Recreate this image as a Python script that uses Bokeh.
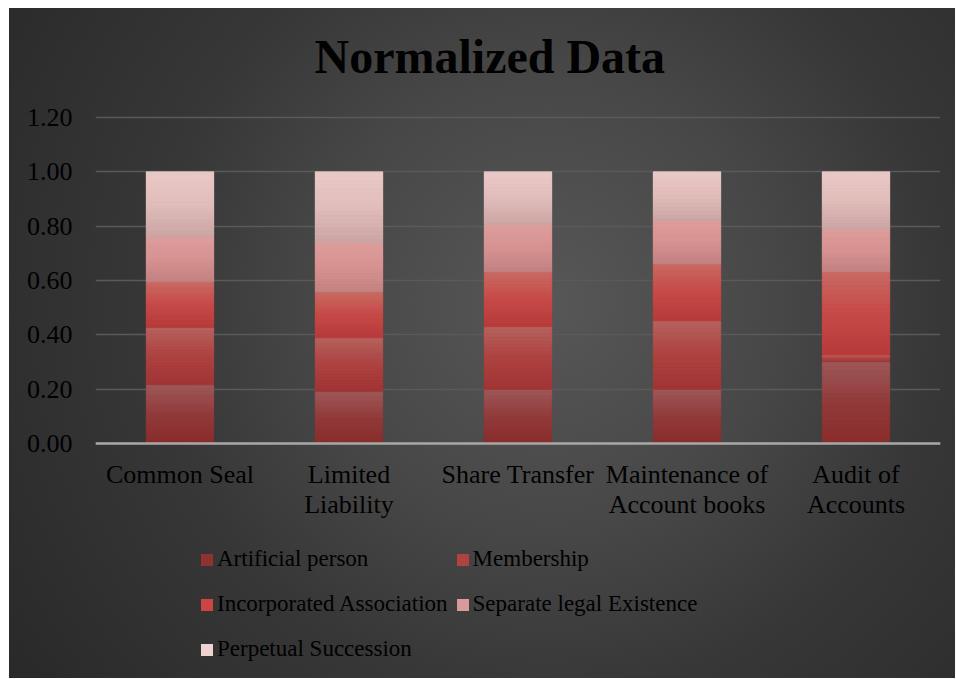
import numpy as np
from bokeh.plotting import figure
from bokeh.models import (ColumnDataSource, FixedTicker, NumeralTickFormatter,
                          Legend, LegendItem, Range1d)
from bokeh.embed import file_html
from bokeh.resources import INLINE

# ---------------- data ----------------
categories = ["Common Seal", "Limited Liability", "Share Transfer",
              "Maintenance of Account books", "Audit of Accounts"]
category_labels = ["Common Seal", "Limited\nLiability", "Share Transfer",
                   "Maintenance of\nAccount books", "Audit of\nAccounts"]
series = ["Artificial person", "Membership", "Incorporated Association",
          "Separate legal Existence", "Perpetual Succession"]
artificial_person = [0.216, 0.191, 0.199, 0.199, 0.301]
membership = [0.211, 0.198, 0.231, 0.253, 0.025]
incorporated_association = [0.168, 0.169, 0.202, 0.209, 0.306]
separate_legal_existence = [0.166, 0.182, 0.173, 0.161, 0.157]
perpetual_succession = [0.239, 0.260, 0.195, 0.178, 0.211]
y_ticks = [0.0, 0.2, 0.4, 0.6, 0.8, 1.0, 1.2]

values = [artificial_person, membership, incorporated_association,
          separate_legal_existence, perpetual_succession]
xpos = list(range(len(categories)))

# ---------------- style / layout ----------------
swatch_colors = ["#8e3232", "#b04242", "#cc4545", "#d89a9a", "#eed2d2"]
stops = [  # bottom, middle, top
    ["#882c2c", "#923a3a", "#9e5858"],
    ["#a03434", "#ad4240", "#b5625e"],
    ["#b63a3a", "#c64a46", "#c96a63"],
    ["#c08180", "#d69290", "#dc9e9c"],
    ["#caa4a2", "#e0bcba", "#e9c9c7"],
]
FONT = "Liberation Serif"
N_SLICES = 18
BAR_W = 0.4
FIG_W, FIG_H = 946, 670
TOP, BOTTOM = 93, 1           # frame borders (px)
TOP_PAD = 16                  # px between frame top and the 1.20 line
VALUE_SPAN_PX = 326           # pixel height of 0 .. 1.2
frame_h = FIG_H - TOP - BOTTOM
u = y_ticks[-1] / VALUE_SPAN_PX
y_hi = y_ticks[-1] + TOP_PAD * u
y_lo = -(frame_h - VALUE_SPAN_PX - TOP_PAD) * u   # room for labels + legend


def hex2rgb(h):
    h = h.lstrip("#")
    return np.array([int(h[i:i + 2], 16) for i in (0, 2, 4)], dtype=float)


def interp(st, f):
    c = [hex2rgb(s) for s in st]
    if f <= 0.5:
        r = c[0] + (c[1] - c[0]) * (f / 0.5)
    else:
        r = c[1] + (c[2] - c[1]) * ((f - 0.5) / 0.5)
    return "#%02x%02x%02x" % tuple(int(round(v)) for v in r)


p = figure(width=FIG_W, height=FIG_H,
           x_range=Range1d(-0.5, len(categories) - 0.5), y_range=Range1d(y_lo, y_hi),
           output_backend="svg", toolbar_location=None,
           min_border_left=86, min_border_right=15,
           min_border_top=TOP, min_border_bottom=BOTTOM)
p.margin = (8, 0, 0, 9)
p.styles = {"background": "radial-gradient(circle farthest-corner at 57% 44%, "
                          "#575757 0%, #474747 35%, #373737 60%, #292929 100%)"}
p.background_fill_color = None
p.border_fill_color = None
p.outline_line_color = None

# base stacked bars (also used for legend)
src = ColumnDataSource(dict(x=xpos, **{s: v for s, v in zip(series, values)}))
base = p.vbar_stack(series, x="x", width=BAR_W, color=swatch_colors,
                    line_color=None, source=src)

# gradient slices over each segment
xs, bots, tops, cols = [], [], [], []
for i in xpos:
    b = 0.0
    for si, v in enumerate(values):
        t = b + v[i]
        for k in range(N_SLICES):
            xs.append(i)
            bots.append(b + (t - b) * k / N_SLICES)
            tops.append(b + (t - b) * (k + 1) / N_SLICES)
            cols.append(interp(stops[si], (k + 0.5) / N_SLICES))
        b = t
p.vbar(x=xs, bottom=bots, top=tops, width=BAR_W, fill_color=cols,
       line_color=cols, line_width=0.6)

# x axis, drawn at y = 0
xa = p.xaxis[0]
xa.fixed_location = 0
xa.ticker = FixedTicker(ticks=xpos)
xa.major_label_overrides = {i: lab for i, lab in zip(xpos, category_labels)}
xa.axis_line_color = "#a8a8a8"
xa.axis_line_width = 2.5
xa.major_tick_line_color = None
xa.minor_tick_line_color = None
xa.major_tick_out = 0
xa.major_tick_in = 0
xa.major_label_standoff = 16
xa.major_label_text_font = FONT
xa.major_label_text_font_size = "26px"
xa.major_label_text_color = "black"
xa.major_label_text_align = "center"
xa.major_label_text_line_height = 1.05

# y axis
p.yaxis.ticker = FixedTicker(ticks=y_ticks)
p.yaxis.formatter = NumeralTickFormatter(format="0.00")
p.yaxis.axis_line_color = None
p.yaxis.major_tick_line_color = None
p.yaxis.minor_tick_line_color = None
p.yaxis.major_tick_out = 0
p.yaxis.major_tick_in = 0
p.yaxis.major_label_standoff = 23
p.yaxis.major_label_text_font = FONT
p.yaxis.major_label_text_font_size = "26px"
p.yaxis.major_label_text_color = "black"

p.xgrid.grid_line_color = None
p.ygrid.grid_line_color = "#5a5a5a"
p.ygrid.grid_line_width = 1.5

# title
p.title.text = "Normalized Data"
p.title.text_font = FONT
p.title.text_font_style = "bold"
p.title.text_font_size = "48px"
p.title.text_color = "black"
p.title.align = "left"
p.title.offset = 219
p.title.standoff = 38

# legend (inside the frame, below the axis labels)
items = [LegendItem(label=s, renderers=[r]) for s, r in zip(series, base)]
legend = Legend(items=items, location=(104, 9), orientation="horizontal",
                ncols=2, background_fill_alpha=0, border_line_alpha=0,
                padding=0, margin=0, spacing=7, glyph_width=15, glyph_height=15,
                label_standoff=3, label_text_font=FONT,
                label_text_font_size="23px", label_text_color="black",
                label_height=38)
p.add_layout(legend, "center")

open("out.html", "w").write(file_html(p, INLINE))
